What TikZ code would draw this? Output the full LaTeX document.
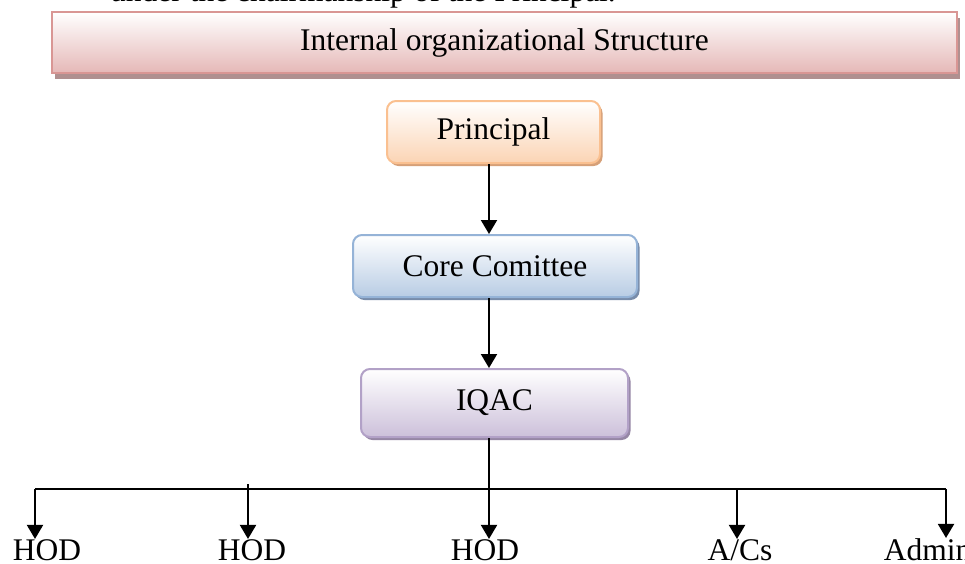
\documentclass[tikz,border=0pt]{standalone}
\usepackage{fontspec}
\setmainfont{Liberation Serif}
\usetikzlibrary{arrows.meta,shadows,calc}
\definecolor{banborder}{RGB}{217,150,148}
\definecolor{banfill}{RGB}{229,184,183}
\definecolor{banshadow}{RGB}{176,144,144}
\definecolor{orborder}{RGB}{250,192,144}
\definecolor{orfill}{RGB}{251,212,180}
\definecolor{orshadow}{RGB}{214,160,120}
\definecolor{blborder}{RGB}{149,179,215}
\definecolor{blfill}{RGB}{184,204,228}
\definecolor{blshadow}{RGB}{120,140,170}
\definecolor{puborder}{RGB}{178,161,199}
\definecolor{pufill}{RGB}{204,192,218}
\definecolor{pushadow}{RGB}{150,135,165}
\begin{document}
\begin{tikzpicture}[x=1pt,y=-1pt,
  txt/.style={font=\fontsize{31.5}{36}\selectfont},
  banner/.style={txt,draw=banborder,line width=2pt,top color=white,bottom color=banfill,
    drop shadow={shadow xshift=2.5pt,shadow yshift=-5.5pt,fill=banshadow,opacity=1}},
  orgbox/.style={txt,rounded corners=9pt,line width=2pt,inner sep=0pt},
  conn/.style={line width=2pt,black},
  arr/.style={conn,-{Triangle[width=16pt,length=14pt]}},
  lbl/.style={txt,anchor=base,inner sep=0pt}]
\path[use as bounding box] (0,0) rectangle (965,563);
\clip (0,0) rectangle (965,563);
\fill[white] (0,0) rectangle (965,563);
% partially visible line of text above
\node[txt,anchor=base west,inner sep=0pt] (intro) at (110,1) {under the chairmanship of the Principal.};
% banner
\node[banner,minimum width=905pt,minimum height=61pt] (title) at (504.5,42.5) {Internal organizational Structure};
% boxes
\node[orgbox,draw=orborder,top color=white,bottom color=orfill,minimum width=213pt,minimum height=62pt,
  drop shadow={shadow xshift=2.5pt,shadow yshift=-3pt,fill=orshadow,opacity=1}] (principal) at (493.5,132) {Principal};
\node[orgbox,draw=blborder,top color=white,bottom color=blfill,minimum width=284pt,minimum height=62pt,
  drop shadow={shadow xshift=2.5pt,shadow yshift=-3pt,fill=blshadow,opacity=1}] (core) at (495,266) {Core Comittee};
\node[orgbox,draw=puborder,top color=white,bottom color=pufill,minimum width=267pt,minimum height=68pt,
  drop shadow={shadow xshift=2.5pt,shadow yshift=-3pt,fill=pushadow,opacity=1}] (iqac) at (494.5,403) {IQAC};
% labels
\node[lbl] (hod1) at (47,560) {HOD};
\node[lbl] (hod2) at (252,560) {HOD};
\node[lbl] (hod3) at (485,560) {HOD};
\node[lbl] (acs) at (740,560) {A/Cs};
\node[lbl] (admin) at (927.7,560) {Admin};
% column coordinates
\coordinate (ax) at (489,0);
\coordinate (c1) at (35,489);
\coordinate (c2) at (248,484);
\coordinate (c4) at (737,488);
\coordinate (c5) at (946,489);
% connectors
\draw[arr] (principal.south -| ax) -- (core.north -| ax);
\draw[arr] (core.south -| ax) -- (iqac.north -| ax);
\draw[arr] (iqac.south -| ax) -- (hod3.north -| ax);
\draw[conn] (c1) -- (c5);
\draw[arr] (c1) -- (hod1.north -| c1);
\draw[arr] (c2) -- (hod2.north -| c2);
\draw[arr] (c4) -- (acs.north -| c4);
\draw[arr] (c5) -- (admin.north -| c5);
\end{tikzpicture}
\end{document}
